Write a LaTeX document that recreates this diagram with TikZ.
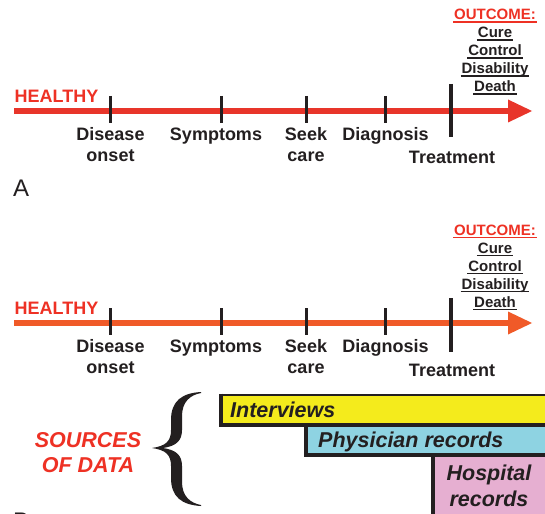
\documentclass[tikz,border=0pt]{standalone}
\usepackage{fontspec}
\setmainfont{Liberation Sans}
\definecolor{redA}{HTML}{E8352A}
\definecolor{redB}{HTML}{F05A28}
\definecolor{txtred}{HTML}{EE3124}
\definecolor{ink}{HTML}{231F20}
\definecolor{boxY}{HTML}{F4EB1C}
\definecolor{boxC}{HTML}{8ED3E2}
\definecolor{boxP}{HTML}{E6AFD1}
\newcommand\myul[1]{\setbox0=\hbox{#1}\makebox[0pt][l]{\hspace{-1pt}\rule[-2.8pt]{\dimexpr\wd0+2pt\relax}{1.3pt}}\box0}
\begin{document}
\begin{tikzpicture}[x=1pt,y=-1pt,
  lbl/.style={font=\fontsize{18}{20}\selectfont\bfseries, text=ink, anchor=base, inner sep=0pt},
  outl/.style={font=\fontsize{15}{17}\selectfont\bfseries, text=ink, anchor=base, inner sep=0pt},
  hl/.style={font=\fontsize{18}{20}\selectfont\bfseries, text=txtred, anchor=base west, inner sep=0pt},
  src/.style={font=\fontsize{21.5}{24}\selectfont\bfseries\itshape, text=ink, inner sep=0pt},
  panel/.style={font=\fontsize{24}{26}\selectfont, text=ink, anchor=base west, inner sep=0pt},
  tick/.style={draw=ink, line width=3.3pt},
  srcbox/.style={draw=ink, line width=1.3pt},
  heavy/.style={draw=ink, line width=3.2pt}]
\clip (0,0) rectangle (545,513);
\fill[white] (0,0) rectangle (545,513);
% ---------------- Panel A ----------------
\coordinate (a0) at (14,111);
\coordinate (a1) at (509,111);
\draw[redA, line width=5.7pt] (a0) -- (a1);
\fill[redA] (508,99.5) -- (532,111) -- (508,122.5) -- cycle;
\node[hl] (hA) at (14.5,103) {HEALTHY};
\coordinate (tA1a) at (110.5,96); \coordinate (tA1b) at (110.5,123);
\coordinate (tA2a) at (221.5,96); \coordinate (tA2b) at (221.5,123);
\coordinate (tA3a) at (306.5,96); \coordinate (tA3b) at (306.5,123);
\coordinate (tA4a) at (385.5,96); \coordinate (tA4b) at (385.5,123);
\coordinate (tA5a) at (451,84);  \coordinate (tA5b) at (451,137);
\draw[tick] (tA1a) -- (tA1b);
\draw[tick] (tA2a) -- (tA2b);
\draw[tick] (tA3a) -- (tA3b);
\draw[tick] (tA4a) -- (tA4b);
\draw[tick] (tA5a) -- (tA5b);
\node[lbl] (dA1) at (110.5,140) {Disease};
\node[lbl] (dA2) at (110.5,161) {onset};
\node[lbl] (sA) at (216,140) {Symptoms};
\node[lbl] (kA1) at (306,140) {Seek};
\node[lbl] (kA2) at (306,161) {care};
\node[lbl] (gA) at (385.5,140) {Diagnosis};
\node[lbl] (trA) at (452,164) {Treatment};
\node[outl, text=txtred] (oA) at (495,20) {\myul{OUTCOME:}};
\node[outl] (oA1) at (495,38) {\myul{Cure}};
\node[outl] (oA2) at (495,56) {\myul{Control}};
\node[outl] (oA3) at (495,74) {\myul{Disability}};
\node[outl] (oA4) at (495,92) {\myul{Death}};
\node[panel] (pA) at (13,196) {A};
% ---------------- Panel B ----------------
\coordinate (b0) at (14,323);
\coordinate (b1) at (509,323);
\draw[redB, line width=5.7pt] (b0) -- (b1);
\fill[redB] (508,311.5) -- (532,323) -- (508,334.5) -- cycle;
\node[hl] (hB) at (14.5,314) {HEALTHY};
\coordinate (tB1a) at (110.5,308); \coordinate (tB1b) at (110.5,335);
\coordinate (tB2a) at (221.5,308); \coordinate (tB2b) at (221.5,335);
\coordinate (tB3a) at (306.5,308); \coordinate (tB3b) at (306.5,335);
\coordinate (tB4a) at (385.5,308); \coordinate (tB4b) at (385.5,335);
\coordinate (tB5a) at (451,298);  \coordinate (tB5b) at (451,352);
\draw[tick] (tB1a) -- (tB1b);
\draw[tick] (tB2a) -- (tB2b);
\draw[tick] (tB3a) -- (tB3b);
\draw[tick] (tB4a) -- (tB4b);
\draw[tick] (tB5a) -- (tB5b);
\node[lbl] (dB1) at (110.5,352) {Disease};
\node[lbl] (dB2) at (110.5,373) {onset};
\node[lbl] (sB) at (216,352) {Symptoms};
\node[lbl] (kB1) at (306,352) {Seek};
\node[lbl] (kB2) at (306,373) {care};
\node[lbl] (gB) at (385.5,352) {Diagnosis};
\node[lbl] (trB) at (452,376) {Treatment};
\node[outl, text=txtred] (oB) at (495,235) {\myul{OUTCOME:}};
\node[outl] (oB1) at (495,253) {\myul{Cure}};
\node[outl] (oB2) at (495,271) {\myul{Control}};
\node[outl] (oB3) at (495,289) {\myul{Disability}};
\node[outl] (oB4) at (495,307) {\myul{Death}};
% ---------------- Sources of data ----------------
\node[src, text=txtred, anchor=base] (so1) at (88,447) {SOURCES};
\node[src, text=txtred, anchor=base] (so2) at (88,472) {OF DATA};
\fill[ink] (201,392)
  .. controls (182,393) and (171,401) .. (171,420)
  -- (171,430)
  .. controls (171,441) and (166,446) .. (152,448)
  .. controls (166,450) and (171,455) .. (171,466)
  -- (171,478)
  .. controls (171,497) and (182,505) .. (201,506)
  -- (201,505)
  .. controls (190,503) and (182,496) .. (182,482)
  -- (182,466)
  .. controls (182,455) and (176,450) .. (163,448)
  .. controls (176,446) and (182,441) .. (182,430)
  -- (182,416)
  .. controls (182,402) and (190,395) .. (201,393)
  -- cycle;
% boxes
\fill[boxP] (433,455) rectangle (550,520);
\fill[boxC] (306,425) rectangle (550,455);
\fill[boxY] (221,395) rectangle (550,425);
\draw[srcbox] (221,395) -- (550,395);
\draw[heavy] (221,393.7) -- (221,425) -- (550,425);
\draw[heavy] (306,425) -- (306,455) -- (550,455);
\draw[heavy] (433,455) -- (433,520);
\node[src, anchor=base west] (iv) at (230,417) {Interviews};
\node[src, anchor=base west] (ph) at (318,447) {Physician records};
\node[src, anchor=base] (ho1) at (489,480) {Hospital};
\node[src, anchor=base] (ho2) at (489,506) {records};
\node[panel] (pB) at (13,529) {B};
\end{tikzpicture}
\end{document}
